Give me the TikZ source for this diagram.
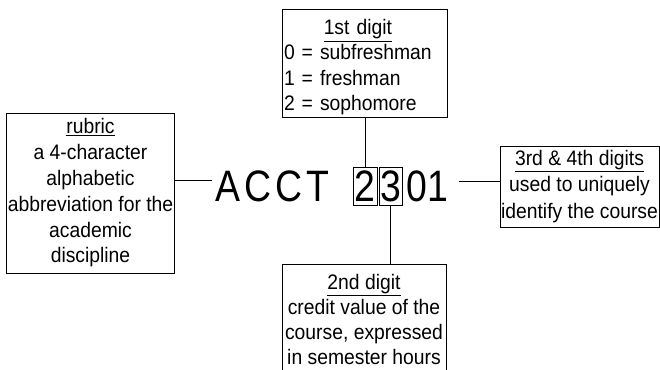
\documentclass[tikz,border=0pt]{standalone}
\usepackage{fontspec}
\usepackage{tikz}
\usetikzlibrary{calc}
\usetikzlibrary{positioning}
\newfontfamily\labelfont{Liberation Sans}[FakeStretch=0.92]
\newfontfamily\codefont{Liberation Sans}[FakeStretch=0.85]

\begin{document}
\begin{tikzpicture}[x=1pt,y=-1pt]
\tikzstyle{box}=[rectangle,align=center,draw,line width=1pt,inner sep=1pt,fill=white,
                 font=\labelfont\fontsize{21}{25}\selectfont]
\tikzstyle{digit}=[rectangle,draw,line width=1pt,inner sep=0pt,minimum height=38pt,
                   font=\codefont\fontsize{44}{48}\selectfont]
\tikzstyle{code}=[inner sep=3pt,font=\codefont\fontsize{44}{48}\selectfont]
\clip (0,0) rectangle (660,369);
\fill[white] (0,0) rectangle (660,369);
% course number
\node[code] at(272.5, 186) (acct) {A\kern4pt C\kern4pt C\kern4pt T};
\node[digit,minimum width=24pt] at(365, 186) (d2) {2};
\node[digit,minimum width=23pt] at(390.5, 186) (d3) {3};
\node[code] at(427.5, 186) (d01) {01};
% explanations
\node[box,minimum width=165pt,minimum height=107pt,text width=161pt,align=left] at(364.5, 63.5) (first)
     {\raisebox{-4pt}[\height][\depth]{\begin{tabular}{@{}l@{}}\multicolumn{1}{@{}c@{}}{\underline{1st digit}}\\
      0 = subfreshman\\
      1 = freshman\\
      2 = sophomore\end{tabular}}};
\node[box,minimum width=165pt,minimum height=160pt,font=\labelfont\fontsize{21}{25.8}\selectfont] at(90.5, 193) (rubric)
     {\underline{rubric}\\
      a 4-character\\
      alphabetic\\
      abbreviation for the\\
      academic\\
      discipline};
\node[box,minimum width=159pt,minimum height=81pt,font=\labelfont\fontsize{21}{26.5}\selectfont] at(579.5, 186.5) (last)
     {\underline{3rd \& 4th digits}\\
      used to uniquely\\
      identify the course};
\node[box,minimum width=164pt,minimum height=110pt] at(364, 319) (second)
     {\underline{2nd digit}\\
      credit value of the\\
      course, expressed\\
      in semester hours};
% connectors
\draw[line width=1pt] (d2.north) -- (d2.north |- first.south);
\draw[line width=1pt] (d3.south) -- (d3.south |- second.north);
\draw[line width=1pt] ([yshift=6pt]acct.west) -- ([yshift=6pt]acct.west -| rubric.east);
\draw[line width=1pt] ([xshift=7pt,yshift=5pt]d01.east) -- ([yshift=5pt]d01.east -| last.west);
\end{tikzpicture}
\end{document}
